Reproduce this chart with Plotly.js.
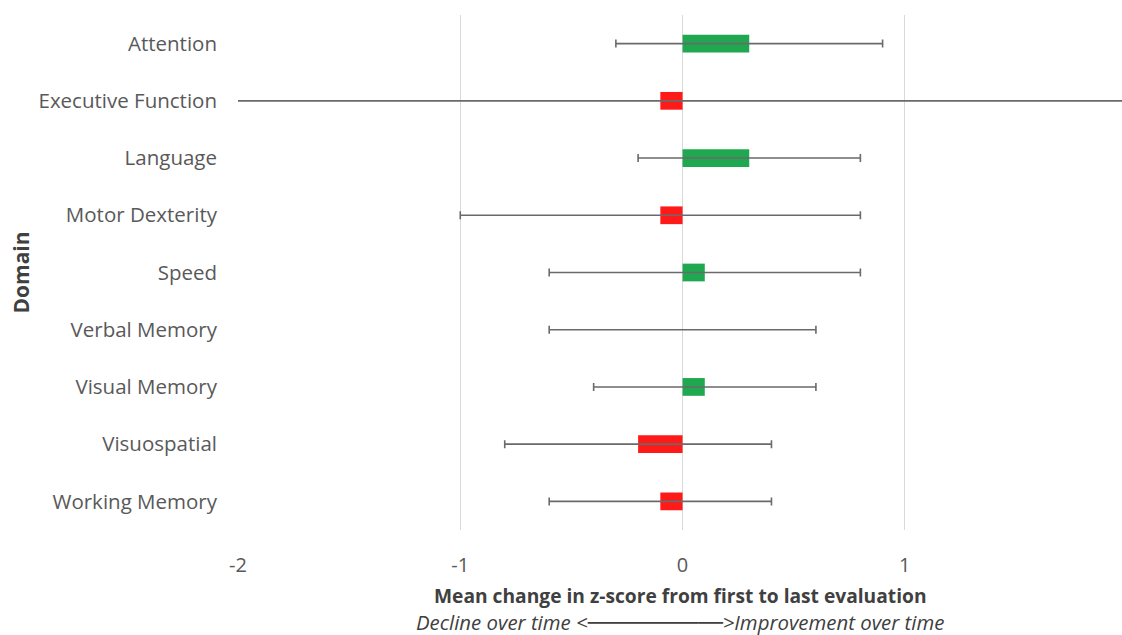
<!DOCTYPE html>
<html>
<head>
<meta charset="utf-8">
<script src="https://cdn.plot.ly/plotly-3.0.1.min.js"></script>
<style>html,body{margin:0;padding:0;background:#fff;}#chart{width:1122px;height:635px;}</style>
</head>
<body>
<div id="chart"></div>
<script>
const domains = ["Attention","Executive Function","Language","Motor Dexterity","Speed","Verbal Memory","Visual Memory","Visuospatial","Working Memory"];
const meanChange = [0.3, -0.1, 0.3, -0.1, 0.1, 0.0, 0.1, -0.2, -0.1];
const ciLow = [-0.3, -3.0, -0.2, -1.0, -0.6, -0.6, -0.4, -0.8, -0.6];
const ciHigh = [0.9, 3.0, 0.8, 0.8, 0.8, 0.6, 0.6, 0.4, 0.4];
const tickVals = [-2, -1, 0, 1];

const colors = meanChange.map(v => v >= 0 ? "#1fa84f" : "#ff1a1a");
const errPlus = meanChange.map((v,i) => ciHigh[i] - v);
const errMinus = meanChange.map((v,i) => v - ciLow[i]);

const trace = {
  type: "bar",
  orientation: "h",
  y: domains,
  x: meanChange,
  width: 0.31,
  marker: {color: colors, line: {width: 0}},
  error_x: {type: "data", symmetric: false, array: errPlus, arrayminus: errMinus, color: "#6a6a6a", thickness: 1.6, width: 4},
  hoverinfo: "x+y"
};

const line = "─".repeat(11);

const layout = {
  width: 1122, height: 635,
  margin: {l: 238, r: 0, t: 15, b: 105},
  paper_bgcolor: "#fff", plot_bgcolor: "#fff",
  showlegend: false,
  font: {family: "Open Sans, sans-serif", color: "#595959"},
  xaxis: {
    range: [-2, 1.977], tickvals: tickVals, ticktext: tickVals.map(String),
    showgrid: true, gridcolor: "#d9d9d9", gridwidth: 1.3,
    zeroline: true, zerolinecolor: "#d9d9d9", zerolinewidth: 1.3,
    showline: false, ticks: "", tickfont: {size: 20, color: "#595959"}, ticklabelstandoff: 21
  },
  yaxis: {
    type: "category", autorange: "reversed",
    showgrid: false, zeroline: false, showline: false, ticks: "",
    tickfont: {size: 20.5, color: "#595959"}, ticklabelstandoff: 20
  },
  annotations: [
    {xref: "paper", yref: "paper", x: -0.2466, y: 0.5, xanchor: "center", yanchor: "middle", showarrow: false, textangle: -90,
     text: "<b>Domain</b>", font: {size: 21, color: "#404040"}},
    {xref: "paper", yref: "paper", x: 0.5, y: -0.127, xanchor: "center", yanchor: "middle", showarrow: false,
     text: "<b>Mean change in z-score from first to last evaluation</b>", font: {size: 19.2, color: "#404040"}},
    {xref: "paper", yref: "paper", x: 0.5, y: -0.178, xanchor: "center", yanchor: "middle", showarrow: false,
     text: "<i>Decline over time <</i><span style=\"font-family:'DejaVu Sans'\">" + line + "</span><i>>Improvement over time</i>", font: {size: 20.4, color: "#404040"}}
  ]
};

Plotly.newPlot("chart", [trace], layout, {displayModeBar: false, staticPlot: true});
</script>
</body>
</html>
